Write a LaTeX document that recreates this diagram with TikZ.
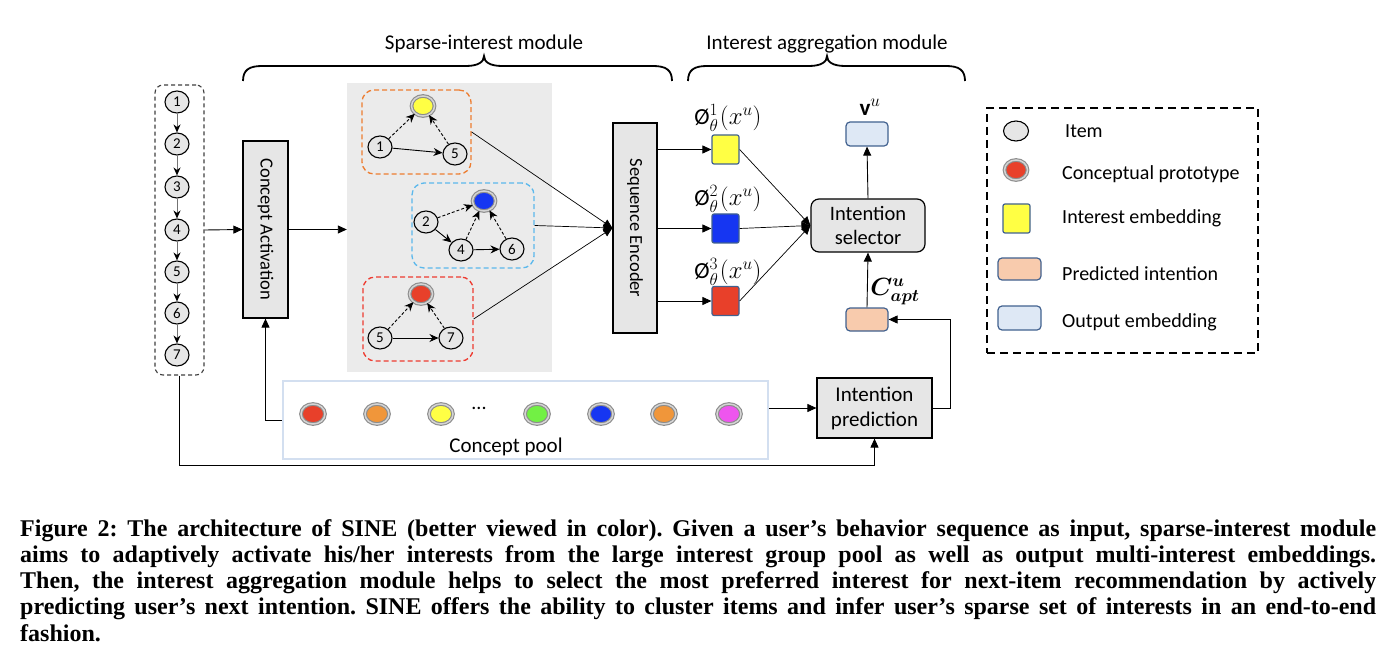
\documentclass[tikz,border=0pt]{standalone}
\usepackage{fontspec}
\usepackage{bm}
\setmainfont{Carlito}
\newfontfamily\capfont{Liberation Serif}
\usetikzlibrary{arrows.meta,shapes.geometric,calc}
\definecolor{itemgray}{HTML}{E6E6E6}
\definecolor{boxgray}{HTML}{E6E6E6}
\definecolor{areagray}{HTML}{EBEBEB}
\definecolor{protogray}{HTML}{8C8C8C}
\definecolor{protolight}{HTML}{D4D4D4}
\definecolor{cyel}{HTML}{FFFF44}
\definecolor{cblue}{HTML}{1636F2}
\definecolor{cred}{HTML}{E8402A}
\definecolor{corange}{HTML}{F0963A}
\definecolor{cgreen}{HTML}{72F044}
\definecolor{cmag}{HTML}{EE55EE}
\definecolor{dorange}{HTML}{ED7D31}
\definecolor{dblue}{HTML}{5BB8EC}
\definecolor{dred}{HTML}{EE3B30}
\definecolor{embborder}{HTML}{41618F}
\definecolor{peach}{HTML}{F8CBAD}
\definecolor{lblue}{HTML}{DEE8F5}
\definecolor{poolborder}{HTML}{D3DFF0}
\begin{document}
\frenchspacing
\begin{tikzpicture}[x=1pt,y=-1pt,
  item/.style={ellipse, draw=black, line width=1.1pt, fill=itemgray, minimum width=24pt, minimum height=22pt, inner sep=0pt, font=\fontsize{15}{15}\selectfont},
  proto/.style={ellipse, draw=protogray, double=protolight, double distance=1.5pt, line width=1.1pt, minimum width=23pt, minimum height=20pt, inner sep=0pt},
  arr/.style={-{Triangle[length=9pt,width=8pt]}, line width=0.9pt, draw=black},
  seqarr/.style={-{Stealth[length=8pt,width=7pt,black]}, line width=1pt, draw=black!55},
  grapharr/.style={-{Stealth[length=9pt,width=8pt]}, line width=0.9pt},
  dasharr/.style={grapharr, dash pattern=on 3pt off 2pt},
  graybox/.style={draw=black, line width=1.2pt, fill=boxgray, inner sep=0pt},
  grp/.style={dash pattern=on 5pt off 3pt, line width=1.3pt, rounded corners=12pt, inner sep=0pt},
  emb/.style={draw=embborder, line width=1.2pt, rounded corners=2pt, minimum width=27pt, minimum height=29pt, inner sep=0pt},
  wide/.style={draw=embborder, line width=1.2pt, rounded corners=4pt, minimum width=42pt, minimum height=24pt, inner sep=0pt},
  lbl/.style={font=\fontsize{21}{21}\selectfont, inner sep=0pt},
  leg/.style={font=\fontsize{20}{20}\selectfont, anchor=west, inner sep=0pt},
  mlbl/.style={font=\fontsize{23}{23}\selectfont, inner sep=0pt},
  capline/.style={font=\capfont\bfseries\fontsize{24}{24}\selectfont, anchor=base west, inner sep=0pt}
]
\useasboundingbox (0,0) rectangle (1396,668);
\fill[white] (0,0) rectangle (1396,668);

% braces
\node[lbl] (sparselbl) at (484,44) {Sparse-interest module};
\node[lbl] (agglbl) at (827,44) {Interest aggregation module};
\draw[line width=1.8pt] (243,81) .. controls (243,70) and (249,66) .. (262,66) -- (466,66) .. controls (478,66) and (484,62) .. (484,56) .. controls (484,62) and (490,66) .. (502,66) -- (653,66) .. controls (666,66) and (672,70) .. (672,81);
\draw[line width=1.8pt] (688,81) .. controls (688,70) and (694,66) .. (707,66) -- (809,66) .. controls (821,66) and (827,62) .. (827,56) .. controls (827,62) and (833,66) .. (845,66) -- (946,66) .. controls (959,66) and (965,70) .. (965,81);

% input sequence
\node[draw=black!75, line width=1.1pt, dash pattern=on 4pt off 3pt, rounded corners=8pt, minimum width=49pt, minimum height=290pt, inner sep=0pt] (seqbox) at (179.5,230) {};
\foreach \i/\y in {1/102,2/144,3/187,4/230,5/272,6/313,7/355}{
  \node[item] (s\i) at (177,\y) {\i};
}
\foreach \i/\j in {1/2,2/3,3/4,4/5,5/6,6/7}{
  \draw[seqarr] (s\i) -- (s\j);
}

% concept activation
\node[graybox, minimum width=45pt, minimum height=177pt] (ca) at (265.5,229.5) {};
\node[rotate=-90, font=\fontsize{18.5}{18.5}\selectfont, inner sep=0pt] (catext) at (ca.center) {Concept Activation};
\draw[arr] (seqbox.east) -- (ca.west);

% gray area
\node[fill=areagray, minimum width=205pt, minimum height=289pt, inner sep=0pt] (area) at (449.5,227.5) {};
\draw[arr] (ca.east) -- (ca.east -| area.west);

% orange group
\node[grp, draw=dorange, minimum width=109pt, minimum height=84pt] (ob) at (416.5,132) {};
\node[proto, fill=cyel] (op) at (423,106) {};
\node[item] (o1) at (380,147) {1};
\node[item] (o5) at (455,154) {5};
\draw[grapharr] (o1) -- (o5);
\draw[dasharr] (o1) -- (op);
\draw[dasharr] (o5) -- (op);

% blue group
\node[grp, draw=dblue, minimum width=122pt, minimum height=85pt] (bb) at (473,225.5) {};
\node[proto, fill=cblue] (bp) at (484,201) {};
\node[item] (b2) at (426,222) {2};
\node[item] (b4) at (461,250) {4};
\node[item] (b6) at (512,249) {6};
\draw[grapharr] (b2) -- (b4);
\draw[grapharr] (b4) -- (b6);
\draw[dasharr] (b2) -- (bp);
\draw[dasharr] (b4) -- (bp);
\draw[dasharr] (b6) -- (bp);

% red group
\node[grp, draw=dred, minimum width=110pt, minimum height=84pt] (rb) at (418,319) {};
\node[proto, fill=cred] (rp) at (421,294) {};
\node[item] (r5) at (380,338) {5};
\node[item] (r7) at (451,338) {7};
\draw[grapharr] (r5) -- (r7);
\draw[dasharr] (r5) -- (rp);
\draw[dasharr] (r7) -- (rp);

% sequence encoder
\node[graybox, minimum width=44pt, minimum height=210pt] (se) at (635,228) {};
\node[rotate=-90, font=\fontsize{18.5}{18.5}\selectfont, inner sep=0pt] (setext) at (se.center) {Sequence Encoder};
\draw[arr, line width=0.7pt] (ob.east) -- (se.west);
\draw[arr, line width=0.7pt] (bb.east) -- (se.west);
\draw[arr, line width=0.7pt] (rb.east) -- (se.west);

% interest embeddings
\node[emb, fill=cyel] (e1) at (725.5,149.5) {};
\node[emb, fill=cblue] (e2) at (725.5,228.5) {};
\node[emb, fill=cred] (e3) at (725.5,301) {};
\node[mlbl] (l1) at (728,118) {$\mbox{Ø}^{1}_{\theta}\mkern1mu(x^{u})$};
\node[mlbl] (l2) at (728,199) {$\mbox{Ø}^{2}_{\theta}\mkern1mu(x^{u})$};
\node[mlbl] (l3) at (728,272) {$\mbox{Ø}^{3}_{\theta}\mkern1mu(x^{u})$};
\draw[arr] (se.east |- e1.west) -- (e1.west);
\draw[arr] (se.east |- e2.west) -- (e2.west);
\draw[arr] (se.east |- e3.west) -- (e3.west);

% intention selector
\node[graybox, rounded corners=8pt, minimum width=114pt, minimum height=53pt, align=center, font=\fontsize{20.5}{24}\selectfont] (sel) at (868,225.5) {Intention\\selector};
\draw[arr, line width=0.7pt] (e1.east) -- (sel.west);
\draw[arr, line width=0.7pt] (e2.east) -- (sel.west);
\draw[arr, line width=0.7pt] (e3.east) -- (sel.west);

\node[wide, fill=lblue] (vbox) at (867,134) {};
\node[mlbl] (vlbl) at (870,107) {$\mathbf{v}^{u}$};
\node[wide, fill=peach, minimum height=23pt] (cbox) at (867,319.5) {};
\node[mlbl] (clbl) at (895,292) {$\bm{C}^{\bm{u}}_{\bm{apt}}$};
\draw[arr] (sel.north) -- (vbox.south);
\draw[arr] (cbox.north) -- (sel.south);

% concept pool
\node[draw=poolborder, line width=2.5pt, fill=white, minimum width=485pt, minimum height=78pt, inner sep=0pt] (pool) at (525.5,420) {};
\foreach \n/\x/\c in {p1/313/cred,p2/377/corange,p3/441/cyel,p4/537/cgreen,p5/601/cblue,p6/664/corange,p7/729/cmag}{
  \node[proto, fill=\c, minimum width=24pt, minimum height=20pt] (\n) at (\x,414) {};
}
\node[font=\fontsize{20}{20}\selectfont, inner sep=0pt] (dots) at (479,408) {...};
\node[lbl] (pooltext) at (506,447) {Concept pool};
\draw[arr] (pool.west) -| (ca.south);

% intention prediction
\node[graybox, minimum width=115pt, minimum height=60pt, align=center, font=\fontsize{21}{25}\selectfont] (pred) at (874.5,408) {Intention\\prediction};
\draw[arr] (pool.east |- pred.west) -- (pred.west);
\coordinate (bot) at (874.5,465);
\draw[arr] (seqbox.south) |- (bot) -- (pred.south);
\coordinate (rt) at (950,408);
\draw[arr] (pred.east) -- (rt) |- (cbox.east);

% legend
\node[draw=black, line width=2.2pt, dash pattern=on 8pt off 5pt, minimum width=271pt, minimum height=245pt, inner sep=0pt] (legend) at (1122.5,230.5) {};
\node[item, minimum width=25pt, minimum height=20pt] (lgitem) at (1016,131) {};
\node[proto, fill=cred] (lgproto) at (1016,170) {};
\node[emb, fill=cyel] (lgemb) at (1016.5,218.5) {};
\node[wide, fill=peach, minimum width=43pt, minimum height=22pt] (lgpred) at (1019.5,269) {};
\node[wide, fill=lblue, minimum width=43pt, minimum height=24pt] (lgout) at (1019.5,318) {};
\node[leg] (tItem) at (1065,131) {Item};
\node[leg] (tProto) at (1062,174) {Conceptual prototype};
\node[leg] (tEmb) at (1062,218) {Interest embedding};
\node[leg] (tPred) at (1062,274) {Predicted intention};
\node[leg] (tOut) at (1062,322) {Output embedding};

% caption
\node[capline] (cap1) at (20,536) {\makebox[1356pt][s]{Figure 2: The architecture of SINE (better viewed in color). Given a user’s behavior sequence as input, sparse-interest module}};
\node[capline] (cap2) at (20,562.3) {\makebox[1356pt][s]{aims to adaptively activate his/her interests from the large interest group pool as well as output multi-interest embeddings.}};
\node[capline] (cap3) at (20,588.6) {\makebox[1356pt][s]{Then, the interest aggregation module helps to select the most preferred interest for next-item recommendation by actively}};
\node[capline] (cap4) at (20,614.9) {\makebox[1356pt][s]{predicting user’s next intention. SINE offers the ability to cluster items and infer user’s sparse set of interests in an end-to-end}};
\node[capline] (cap5) at (20,641.2) {fashion.};
\end{tikzpicture}
\end{document}
